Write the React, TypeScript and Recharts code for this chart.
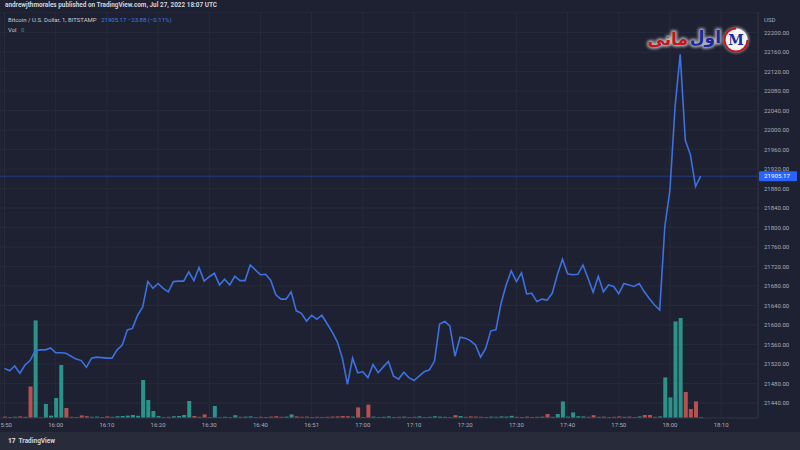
import React from 'react';
import {
  ComposedChart,
  Line,
  Bar,
  Cell,
  XAxis,
  YAxis,
  CartesianGrid,
  ReferenceLine,
} from 'recharts';

// BTC/USD, 1 minute bars, BITSTAMP — 15:50 to 18:06 UTC, Jul 27 2022
const prices = [
  21511, 21506, 21516, 21501, 21518, 21527, 21547, 21549, 21549, 21553,
  21543, 21543, 21542, 21536, 21530, 21527, 21513, 21532, 21534, 21533,
  21532, 21532, 21549, 21559, 21590, 21593, 21620, 21637, 21689, 21675,
  21685, 21675, 21668, 21689, 21690, 21690, 21709, 21691, 21718, 21690,
  21699, 21706, 21682, 21694, 21682, 21700, 21691, 21691, 21723, 21713,
  21703, 21704, 21692, 21662, 21653, 21653, 21668, 21629, 21624, 21608,
  21620, 21612, 21620, 21603, 21586, 21566, 21532, 21478, 21532, 21502,
  21504, 21492, 21519, 21502, 21514, 21525, 21495, 21489, 21503, 21492,
  21486, 21495, 21504, 21508, 21526, 21602, 21607, 21598, 21536, 21575,
  21573, 21568, 21559, 21534, 21552, 21588, 21590, 21644, 21682, 21711,
  21689, 21707, 21664, 21665, 21648, 21653, 21651, 21665, 21703, 21735,
  21705, 21703, 21704, 21723, 21696, 21667, 21700, 21668, 21682, 21679,
  21664, 21685, 21682, 21679, 21685, 21668, 21654, 21641, 21631, 21802,
  21877, 22048, 22155, 21979, 21949, 21884, 21905.17,
];

const volumes = [
  0.7, 0.5, 0.6, 0.8, 0.6, 15.8, 48.8, 0.4, 7, 1.2,
  10, 26.5, 5, 0.6, 0.5, 1.3, 0.9, 0.6, 0.7, 0.5,
  0.8, 0.6, 0.9, 1.0, 1.2, 1.5, 1.1, 19, 9, 3.5,
  1.0, 0.5, 0.6, 0.9, 1.0, 1.5, 8.5, 1.0, 0.6, 1.8,
  0.5, 6, 0.4, 0.6, 0.5, 1.4, 0.6, 0.7, 0.8, 0.5,
  0.6, 0.5, 0.7, 0.9, 0.6, 0.7, 1.8, 0.8, 0.6, 0.7,
  0.5, 0.6, 0.5, 0.6, 0.7, 0.8, 1.0, 0.9, 0.7, 5.3,
  0.5, 6.7, 0.7, 0.5, 0.6, 0.8, 0.5, 0.6, 0.7, 0.5,
  0.6, 0.8, 0.5, 0.6, 0.9, 0.7, 0.6, 0.5, 1.4, 1.0,
  0.6, 0.8, 0.7, 0.6, 0.5, 0.7, 0.6, 0.8, 0.7, 1.1,
  0.6, 0.5, 0.7, 0.5, 0.6, 0.7, 2.0, 0.6, 2.0, 8.3,
  0.7, 2.8, 0.9, 0.8, 0.6, 1.4, 0.6, 0.7, 0.5, 0.6,
  0.8, 0.6, 0.7, 0.5, 0.8, 1.5, 1.5, 0.6, 0.8, 20.3,
  10.3, 48.3, 50, 13, 4.5, 8.3, 0.5,
];

// 1 = candle closed up, 0 = closed down
const candleUp = [
  0, 0, 1, 0, 1, 0, 1, 1, 1, 1,
  1, 1, 0, 0, 0, 0, 0, 1, 1, 0,
  0, 1, 1, 1, 1, 1, 1, 1, 1, 1,
  1, 0, 0, 1, 1, 1, 1, 0, 1, 0,
  1, 1, 0, 1, 0, 1, 0, 1, 1, 0,
  0, 1, 0, 0, 0, 1, 1, 0, 0, 0,
  1, 0, 1, 0, 0, 0, 0, 0, 1, 0,
  1, 0, 1, 0, 1, 1, 0, 0, 1, 0,
  0, 1, 1, 1, 1, 1, 1, 0, 0, 1,
  0, 0, 0, 0, 1, 1, 1, 1, 1, 1,
  0, 1, 0, 1, 0, 1, 0, 1, 1, 1,
  1, 1, 1, 1, 0, 0, 1, 0, 1, 0,
  0, 1, 0, 0, 1, 0, 0, 0, 1, 1,
  1, 1, 1, 0, 0, 0, 1,
];

const priceTicks = [
  21440, 21480, 21520, 21560, 21600, 21640, 21680, 21720, 21760, 21800,
  21840, 21880, 21920, 21960, 22000, 22040, 22080, 22120, 22160, 22200,
];

const timeTicks = [0, 10, 20, 30, 40, 50, 60, 70, 80, 90, 100, 110, 120, 130, 140];
const timeLabels = [
  '15:50', '16:00', '16:10', '16:20', '16:30', '16:40', '16:51', '17:00',
  '17:10', '17:20', '17:30', '17:40', '17:50', '18:00', '18:10',
];

const lastPrice = 21905.17;

const BG = '#1e2131';
const GRID = '#272b3b';
const TEXT = '#a9acb8';
const FONT = 'Roboto, "Noto Sans", sans-serif';

const data = prices.map((p, i) => ({
  i,
  price: p,
  vol: volumes[i],
  up: candleUp[i] === 1,
}));

function PriceTag(props: any) {
  const vb = props.viewBox ?? {};
  const x = (vb.x ?? 0) + (vb.width ?? 0);
  const y = vb.y ?? 0;
  return (
    <g>
      <rect x={x + 1} y={y - 5} width={38} height={10} fill="#2962ff" rx={1} />
      <text x={x + 6} y={y} dy="0.35em" fontSize={6.2} fill="#ffffff" fontFamily={FONT}>
        {lastPrice.toFixed(2)}
      </text>
    </g>
  );
}

function Logo() {
  const ar = '"Noto Sans", "DejaVu Sans", sans-serif';
  return (
    <svg width={116} height={40} style={{ position: 'absolute', left: 636, top: 18 }}>
      <defs>
        <filter id="glow" x="-20%" y="-40%" width="140%" height="180%">
          <feGaussianBlur stdDeviation="1.5" />
        </filter>
      </defs>
      <g filter="url(#glow)" opacity={0.7}>
        <text x={52} y={27} textAnchor="end" fontSize={17} fontWeight={700} fill="#fff" stroke="#fff" strokeWidth={3} fontFamily={ar}>مانی</text>
        <text x={85} y={25} textAnchor="end" fontSize={17} fontWeight={700} fill="#fff" stroke="#fff" strokeWidth={3} fontFamily={ar}>اول</text>
        <circle cx={100} cy={22} r={12.5} fill="#fff" />
      </g>
      <text x={52} y={27} textAnchor="end" fontSize={17} fontWeight={700} fill="#c3161c" fontFamily={ar}>مانی</text>
      <text x={85} y={25} textAnchor="end" fontSize={17} fontWeight={700} fill="#1a2a9a" fontFamily={ar}>اول</text>
      <circle cx={100} cy={22} r={11.5} fill="#f4f4f8" stroke="#c3161c" strokeWidth={2} strokeDasharray="54 18" />
      <text x={100} y={27} textAnchor="middle" fontSize={14} fontWeight={700} fill="#1a2a9a" fontFamily="'DejaVu Serif', serif">M</text>
    </svg>
  );
}

export default function App() {
  return (
    <div style={{ position: 'relative', width: 800, height: 450, background: BG, overflow: 'hidden', fontFamily: FONT }}>
      <style>{'body{margin:0}'}</style>

      <ComposedChart
        width={800}
        height={450}
        data={data}
        margin={{ top: 12, right: 0, bottom: 0, left: 0 }}
      >
        <CartesianGrid yAxisId="price" stroke={GRID} strokeWidth={1} />
        <XAxis
          dataKey="i"
          type="number"
          domain={[-0.88, 147.2]}
          allowDataOverflow
          ticks={timeTicks}
          tickFormatter={(v: number) => timeLabels[timeTicks.indexOf(v)] ?? ''}
          tick={{ fill: TEXT, fontSize: 6, fontFamily: FONT }}
          tickLine={false}
          tickSize={0}
          tickMargin={5}
          axisLine={{ stroke: '#2c3040' }}
          height={32}
          interval={0}
        />
        <YAxis
          yAxisId="price"
          orientation="right"
          domain={[21409.2, 22242]}
          allowDataOverflow
          ticks={priceTicks}
          tickFormatter={(v: number) => v.toFixed(2)}
          tick={{ fill: TEXT, fontSize: 6, fontFamily: FONT }}
          tickLine={false}
          tickSize={0}
          tickMargin={6}
          axisLine={{ stroke: '#2c3040' }}
          width={42}
          interval={0}
        />
        <YAxis yAxisId="vol" hide domain={[0, 203]} />
        <Bar yAxisId="vol" dataKey="vol" barSize={4} isAnimationActive={false}>
          {data.map((d) => (
            <Cell key={d.i} fill={d.up ? '#2b938a' : '#b65150'} />
          ))}
        </Bar>
        <ReferenceLine
          yAxisId="price"
          y={lastPrice}
          stroke="#2962ff"
          strokeOpacity={0.4}
          strokeWidth={1}
          label={<PriceTag />}
        />
        <Line
          yAxisId="price"
          type="linear"
          dataKey="price"
          stroke="#3d70e0"
          strokeWidth={1.6}
          dot={false}
          isAnimationActive={false}
        />
      </ComposedChart>

      {/* header */}
      <div style={{ position: 'absolute', left: 0, top: 0, width: 800, height: 12, background: BG }} />
      <div style={{ position: 'absolute', left: 5, top: 1, fontSize: 6.4, fontWeight: 700, color: '#d1d4dc', whiteSpace: 'nowrap' }}>
        andrewjthmorales published on TradingView.com, Jul 27, 2022 18:07 UTC
      </div>
      <div style={{ position: 'absolute', left: 8, top: 16, fontSize: 6, color: '#c8cad2', whiteSpace: 'nowrap' }}>
        Bitcoin / U.S. Dollar, 1, BITSTAMP{' '}
        <span style={{ color: '#3d7bf5', marginLeft: 3 }}>21905.17 −23.88 (−0.11%)</span>
      </div>
      <div style={{ position: 'absolute', left: 8, top: 26, fontSize: 6, color: '#c8cad2', whiteSpace: 'nowrap' }}>
        Vol <span style={{ color: '#2b978b', marginLeft: 3 }}>0</span>
      </div>
      <div style={{ position: 'absolute', left: 764, top: 16, fontSize: 6, color: TEXT }}>USD</div>

      <Logo />

      {/* footer */}
      <div style={{ position: 'absolute', left: 0, top: 432, width: 800, height: 18, background: '#282c3a' }} />
      <div style={{ position: 'absolute', left: 8, top: 437, fontSize: 6.5, fontWeight: 700, color: '#d1d4dc', whiteSpace: 'nowrap' }}>
        <span style={{ fontWeight: 900, marginRight: 3 }}>17</span>TradingView
      </div>
    </div>
  );
}
